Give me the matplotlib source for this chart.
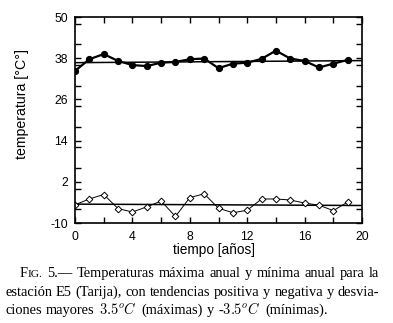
import matplotlib
matplotlib.use("Agg")
import matplotlib.pyplot as plt
from matplotlib.ticker import MultipleLocator

# annual extremes, station E5 (Tarija)
years = [0, 1, 2, 3, 4, 5, 6, 7, 8, 9, 10, 11, 12, 13, 14, 15, 16, 17, 18, 19]
t_max = [34.3, 37.7, 39.2, 37.2, 36.0, 35.7, 36.7, 36.9, 37.7, 37.9,
         35.1, 36.4, 36.7, 37.8, 40.2, 37.9, 37.2, 35.3, 36.4, 37.5]
t_min = [-4.7, -3.0, -1.7, -5.8, -6.8, -5.3, -3.6, -8.1, -2.6, -1.5,
         -5.7, -7.0, -6.3, -3.0, -3.0, -3.3, -4.2, -4.8, -6.4, -3.9]
trend_x = [0, 20]
trend_max = [36.7, 37.3]
trend_min = [-4.5, -4.9]

x_ticks = [0, 4, 8, 12, 16, 20]
y_ticks = [-10, 2, 14, 26, 38, 50]

W, H = 393, 323
plt.rcParams['mathtext.fontset'] = 'cm'
plt.rcParams['axes.unicode_minus'] = False

fig = plt.figure(figsize=(W / 100, H / 100), dpi=100)
ax = fig.add_axes([75 / W, 1 - 223 / H, 287 / W, 206 / H])

ax.plot(trend_x, trend_max, color='black', lw=1.1)
ax.plot(trend_x, trend_min, color='black', lw=1.1)
ax.plot(years, t_max, color='black', lw=1.6, marker='o', ms=4.2)
ax.plot(years, t_min, color='black', lw=0.7, marker='D', ms=3.4,
        mfc='white', mec='black', mew=0.7)

ax.set_xlim(0, 20)
ax.set_ylim(-10, 50)
ax.set_xticks(x_ticks)
ax.set_yticks(y_ticks)
ax.xaxis.set_minor_locator(MultipleLocator(2))
ax.yaxis.set_minor_locator(MultipleLocator(6))
ax.tick_params(which='both', direction='in', length=4, width=1,
               top=True, right=True)
ax.tick_params(axis='x', pad=6)
ax.tick_params(axis='y', pad=5)
for lab in ax.get_xticklabels() + ax.get_yticklabels():
    lab.set_family('Liberation Sans')
    lab.set_fontsize(8.8)
for sp in ax.spines.values():
    sp.set_linewidth(1.2)

ax.text(-0.185, 0.58, 'temperatura [°C°]', transform=ax.transAxes,
        rotation=90, ha='center', va='center', family='Liberation Sans',
        fontsize=10.2)
ax.text(0.484, -0.13, 'tiempo [años]', transform=ax.transAxes,
        ha='center', va='center', family='Liberation Sans', fontsize=9.8)

# caption, justified like the printed figure
renderer = fig.canvas.get_renderer()
cap_font = 'Liberation Serif'


def make_word(parts, size):
    objs = []
    for s, k in parts:
        t = fig.text(0, 0, s, fontsize=size * k, family=cap_font,
                     va='baseline', ha='left')
        objs.append((t, t.get_window_extent(renderer).width))
    return objs


def caption_line(words, x0, y, x1, size):
    built = [make_word(w, size) for w in words]
    widths = [sum(w for _, w in b) for b in built]
    if x1 is None:
        gap = 0.3 * size * 100 / 72
    else:
        gap = (x1 - x0 - sum(widths)) / (len(words) - 1)
    x = x0
    for b, bw in zip(built, widths):
        xx = x
        for t, w in b:
            t.set_position((xx / W, 1 - y / H))
            xx += w
        x += bw + gap


def plain(text):
    return [[(w, 1.0)] for w in text.split()]


size = 10.4
line1 = [[('F', 1.0), ('IG.', 0.78)]] + plain('5.— Temperaturas máxima anual y mínima anual para la')
line2 = plain('estación E5 (Tarija), con tendencias positiva y negativa y desvia-')
line3 = plain('ciones mayores') + [[('$3.5^oC$', 1.0)]] + plain('(máximas) y') + \
    [[('-$3.5^oC$', 1.0)]] + plain('(mínimas).')

caption_line(line1, 20, 277, 379, size)
caption_line(line2, 5, 296, 379, size)
caption_line(line3, 5, 314, None, size)

fig.savefig('out.png', dpi=100)
